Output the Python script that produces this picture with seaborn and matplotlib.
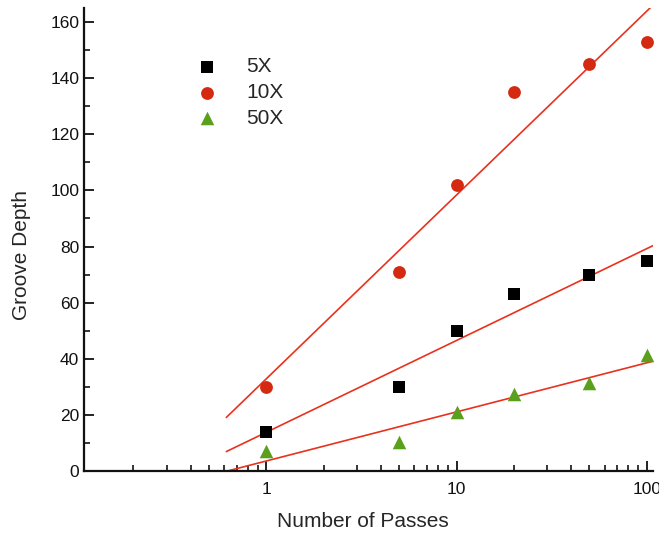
import numpy as np
import pandas as pd
import matplotlib
matplotlib.use("Agg")
import matplotlib.pyplot as plt
import seaborn as sns
from matplotlib.ticker import LogLocator, FixedLocator, NullFormatter

passes = [1, 5, 10, 20, 50, 100]
depth_5x = [14, 30, 50, 63, 70, 75]
depth_10x = [30, 71, 102, 135, 145, 153]
depth_50x = [7, 10.5, 21, 27.3, 31.4, 41.4]
series = ["5X", "10X", "50X"]

df = pd.DataFrame({
    "Passes": passes * 3,
    "Depth": depth_5x + depth_10x + depth_50x,
    "Series": np.repeat(series, len(passes)),
})

sns.set_style("ticks")
plt.rcParams['font.family'] = ['Liberation Sans', 'DejaVu Sans']

fig = plt.figure(figsize=(6.59, 5.35), dpi=100)
ax = fig.add_axes([0.1275, 0.1196, 0.8635, 0.8654])

palette = {"5X": "#000000", "10X": "#d42a12", "50X": "#5aa01c"}
markers = {"5X": "s", "10X": "o", "50X": "^"}
sizes = {"5X": 70, "10X": 85, "50X": 95}

# fitted lines (linear in log10 of passes)
x_fit = np.logspace(np.log10(0.616), np.log10(110), 200)
for s, vals in zip(series, [depth_5x, depth_10x, depth_50x]):
    k, b = np.polyfit(np.log10(passes), vals, 1)
    ax.plot(x_fit, k * np.log10(x_fit) + b, color="#e8321e", lw=1.2, zorder=2)

for s in series:
    sub = df[df["Series"] == s]
    sns.scatterplot(data=sub, x="Passes", y="Depth", ax=ax, color=palette[s],
                    marker=markers[s], s=sizes[s], linewidth=0, label=s, zorder=3)

ax.set_xscale("log")
ax.set_xlim(0.11, 108)
ax.set_ylim(0, 165)

ax.set_yticks(np.arange(0, 161, 20))
ax.yaxis.set_minor_locator(FixedLocator(np.arange(10, 161, 20)))
ax.xaxis.set_major_locator(FixedLocator([1, 10, 100]))
ax.xaxis.set_minor_locator(LogLocator(base=10, subs=np.arange(2, 10)))
ax.xaxis.set_minor_formatter(NullFormatter())
ax.set_xticklabels(["1", "10", "100"])

ax.tick_params(axis="both", which="major", direction="in", length=7, width=1.3,
               labelsize=12.5, colors="#111111")
ax.tick_params(axis="both", which="minor", direction="in", length=4.5, width=1.3)
ax.tick_params(axis="x", pad=8)

for side in ["top", "right"]:
    ax.spines[side].set_visible(False)
for side in ["left", "bottom"]:
    ax.spines[side].set_linewidth(1.6)
    ax.spines[side].set_color("#111111")

ax.set_xlabel("Number of Passes", fontsize=15)
ax.set_ylabel("Groove Depth", fontsize=15)
ax.xaxis.set_label_coords(0.49, -0.088)
ax.yaxis.set_label_coords(-0.094, 0.467)

ax.legend(loc="upper left", bbox_to_anchor=(0.164, 0.912), frameon=False,
          fontsize=15, handletextpad=0.9, labelspacing=0.33, markerscale=1.0,
          borderaxespad=0)

fig.savefig("out.png", dpi=100)
